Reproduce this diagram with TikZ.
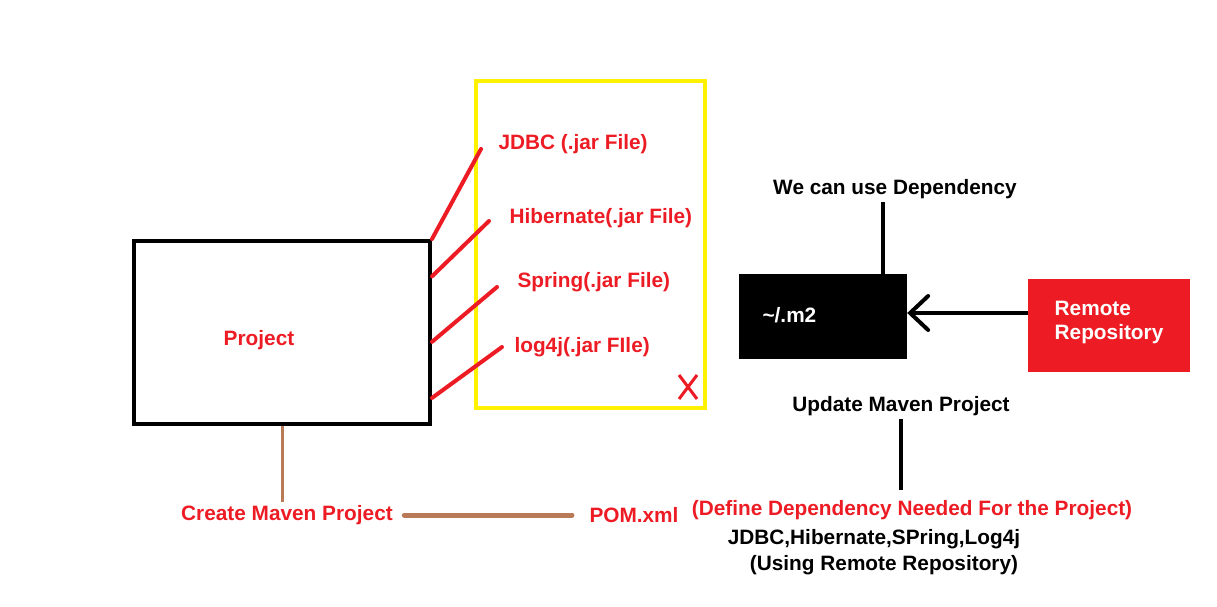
\documentclass[tikz,border=0pt]{standalone}
\usepackage{fontspec}
\setmainfont{Liberation Sans}
\usetikzlibrary{calc,arrows.meta}
\definecolor{paintred}{RGB}{237,28,36}
\definecolor{paintyellow}{RGB}{255,242,0}
\definecolor{paintbrown}{RGB}{185,122,87}
\tikzset{
  txt/.style={font=\bfseries\fontsize{20.8}{24}\selectfont},
  redtxt/.style={txt,text=paintred},
  jarline/.style={paintred,line width=4pt,line cap=round},
  blackline/.style={black,line width=4pt}
}

\begin{document}
\begin{tikzpicture}[x=1pt,y=-1pt]
  \useasboundingbox (0,0) rectangle (1217,607);
  % project box and the jar files
  \node[draw,line width=4pt,minimum width=296pt,minimum height=183pt] (project) at (282,332.5) {};
  \node[redtxt] (projlabel) at (259,340) {Project};
  \node[draw=paintyellow,line width=4pt,minimum width=229pt,minimum height=327pt] (jarbox) at (590.5,244.5) {};
  \node[redtxt,anchor=west] (jdbc) at (495,144) {JDBC (.jar File)};
  \node[redtxt,anchor=west] (hib) at (506,218) {Hibernate(.jar File)};
  \node[redtxt,anchor=west] (spring) at (514,282) {Spring(.jar File)};
  \node[redtxt,anchor=west] (logj) at (511,347) {log4j(.jar FIle)};
  \coordinate (jdbcend) at (481,149);
  \coordinate (hibend) at (489,221);
  \coordinate (springend) at (497,287);
  \coordinate (logjend) at (502,347);
  \draw[jarline] (project.north east) -- (jdbcend);
  \draw[jarline] ($(project.north east)!0.2!(project.south east)$) -- (hibend);
  \draw[jarline] ($(project.north east)!0.55!(project.south east)$) -- (springend);
  \draw[jarline] ($(project.north east)!0.85!(project.south east)$) -- (logjend);
  % cross
  \draw[paintred,line width=3pt] (679,375) -- (697,399);
  \draw[paintred,line width=3pt] (697,375) -- (679,399);
  % local and remote repository
  \node[fill=black,minimum width=168pt,minimum height=85pt] (m2) at (823,316.5) {};
  \node[txt,text=white,anchor=west] (m2label) at (759,315) {\textasciitilde/.m2};
  \node[fill=paintred,minimum width=162pt,minimum height=93pt] (remote) at (1109,325.5) {};
  \node[txt,text=white,align=left] (remotelabel) at (1109,322) {Remote\\Repository};
  \draw[blackline,-{Straight Barb[length=18pt,width=34pt,line cap=round]}] ([yshift=3.5pt]remote.west |- m2.east) -- ([yshift=3.5pt]m2.east);
  \node[txt] (usedep) at (895,189) {We can use Dependency};
  \coordinate (m2top) at (883,274);
  \draw[blackline] (usedep.south -| m2top) -- (m2top);
  % update and pom
  \node[txt] (update) at (901,406) {Update Maven Project};
  \node[redtxt] (define) at (912,510) {(Define Dependency Needed For the Project)};
  \draw[blackline,shorten >=7pt] (update.south) -- (update.south |- define.north);
  \node[txt] (deps) at (874,539) {JDBC,Hibernate,SPring,Log4j};
  \node[txt] (using) at (884,565) {(Using Remote Repository)};
  \node[redtxt] (create) at (287,515) {Create Maven Project};
  \node[redtxt] (pom) at (634,515) {POM.xml};
  \draw[paintbrown,line width=3pt] (project.south) -- (project.south |- create.north);
  \draw[paintbrown,line width=5pt,line cap=round,shorten <=8pt,shorten >=14pt] (create.east) -- (pom.west);
\end{tikzpicture}
\end{document}
